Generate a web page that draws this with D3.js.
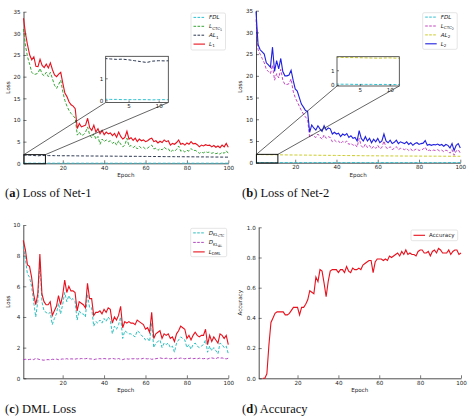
<!DOCTYPE html>
<html>
<head>
<meta charset="utf-8">
<script src="https://d3js.org/d3.v7.min.js"></script>
<style>
body { margin: 0; background: #fff; }
text { font-family: "DejaVu Sans", sans-serif; fill: #222; }
.cap { font-family: "Liberation Serif", serif; fill: #111; }
</style>
</head>
<body>
<svg id="fig" width="474" height="420"></svg>
<script>
// epochs 1..100
var epochs = d3.range(1, 101);
var xTicks = [20, 40, 60, 80, 100];

// (a) Net-1
var a_FDL = [0.05,0.04,0.04,0.03,0.03,0.03,0.03,0.03,0.02,0.03,
  0.03,0.02,0.03,0.02,0.03,0.02,0.02,0.03,0.02,0.02,
  0.02,0.03,0.02,0.02,0.02,0.02,0.03,0.02,0.02,0.02,
  0.02,0.02,0.02,0.03,0.02,0.02,0.02,0.02,0.02,0.02,
  0.02,0.02,0.02,0.02,0.02,0.02,0.02,0.02,0.02,0.02,
  0.02,0.02,0.02,0.02,0.02,0.02,0.02,0.02,0.02,0.02,
  0.02,0.02,0.02,0.02,0.02,0.02,0.02,0.02,0.02,0.02,
  0.02,0.02,0.02,0.02,0.02,0.02,0.02,0.02,0.02,0.02,
  0.02,0.02,0.02,0.02,0.02,0.02,0.02,0.02,0.02,0.02,
  0.02,0.02,0.02,0.02,0.02,0.02,0.02,0.02,0.02,0.02];
var a_CTC1 = [31.0,27.0,24.5,22.8,21.0,20.5,20.6,20.8,21.9,20.6,
  20.2,21.0,20.0,21.0,19.5,18.0,17.3,18.2,19.2,16.5,
  14.5,13.2,12.2,11.5,11.0,10.4,6.5,7.2,6.4,6.6,
  7.2,8.4,6.5,5.9,6.8,5.6,6.2,4.4,5.6,5.0,
  5.4,5.0,5.2,4.6,5.0,4.2,5.2,4.4,3.8,4.2,
  5.8,3.9,4.1,3.6,4.0,3.3,3.9,3.5,3.7,3.3,
  3.5,3.9,4.2,3.3,3.5,3.0,3.4,3.1,3.7,3.3,
  3.4,2.6,3.0,2.8,3.2,4.0,2.8,3.0,2.6,3.0,
  2.8,3.4,2.9,3.0,2.7,2.3,2.6,2.4,2.7,2.5,
  2.6,2.3,2.5,2.2,2.4,2.1,2.6,2.3,2.9,2.3];
var a_AL1 = [1.90,1.88,1.86,1.87,1.84,1.80,1.76,1.72,1.78,1.80,
  1.79,1.80,1.78,1.77,1.78,1.76,1.77,1.75,1.76,1.74,
  1.75,1.73,1.74,1.72,1.73,1.71,1.72,1.70,1.71,1.70,
  1.70,1.69,1.70,1.68,1.69,1.67,1.68,1.66,1.67,1.66,
  1.66,1.65,1.66,1.64,1.65,1.63,1.64,1.63,1.62,1.63,
  1.62,1.61,1.62,1.60,1.61,1.60,1.59,1.60,1.58,1.59,
  1.58,1.57,1.58,1.56,1.57,1.56,1.55,1.56,1.54,1.55,
  1.54,1.53,1.54,1.52,1.53,1.52,1.51,1.52,1.50,1.51,
  1.50,1.49,1.50,1.48,1.49,1.48,1.47,1.48,1.46,1.47,
  1.46,1.45,1.46,1.44,1.45,1.44,1.43,1.44,1.42,1.43];
var a_L1 = [33.5,29.8,27.2,25.0,23.9,24.6,22.4,22.3,24.0,22.6,
  22.1,22.9,22.0,23.2,21.6,20.4,20.0,20.6,21.0,18.5,
  16.2,15.4,14.2,13.5,13.2,12.6,8.0,9.2,8.4,8.6,
  8.8,10.4,8.2,7.6,8.8,7.2,8.0,6.8,7.6,6.6,
  7.2,6.8,7.0,6.4,6.9,6.0,7.2,6.2,5.6,6.0,
  7.4,5.6,5.9,5.3,5.8,5.0,5.6,5.2,5.4,5.0,
  5.2,5.6,5.8,5.0,5.2,4.7,5.1,4.8,5.4,5.0,
  5.2,4.2,4.6,4.4,4.8,5.4,4.4,4.6,4.2,4.7,
  4.4,5.0,4.5,4.6,4.3,3.8,4.2,4.0,4.3,4.1,
  4.2,3.8,4.1,3.7,4.0,3.6,4.2,3.8,4.6,3.7];

// (b) Net-2
var b_FDL = [0.06,0.05,0.05,0.04,0.04,0.04,0.04,0.03,0.04,0.03,
  0.03,0.03,0.03,0.03,0.03,0.03,0.03,0.03,0.03,0.03,
  0.03,0.03,0.03,0.03,0.03,0.03,0.03,0.03,0.03,0.03,
  0.03,0.03,0.03,0.03,0.03,0.03,0.03,0.03,0.03,0.03,
  0.03,0.03,0.03,0.03,0.03,0.03,0.03,0.03,0.03,0.03,
  0.03,0.03,0.03,0.03,0.03,0.03,0.03,0.03,0.03,0.03,
  0.03,0.03,0.03,0.03,0.03,0.03,0.03,0.03,0.03,0.03,
  0.03,0.03,0.03,0.03,0.03,0.03,0.03,0.03,0.03,0.03,
  0.03,0.03,0.03,0.03,0.03,0.03,0.03,0.03,0.03,0.03,
  0.03,0.03,0.03,0.03,0.03,0.03,0.03,0.03,0.03,0.03];
var b_CTC2 = [33.0,26.0,25.0,24.0,23.0,21.5,21.0,20.5,22.5,19.0,
  20.5,19.5,21.5,19.0,18.0,18.0,18.2,19.3,16.5,15.0,
  14.0,13.0,12.0,11.2,10.5,10.0,5.8,6.4,6.1,5.8,
  6.6,5.9,5.4,6.4,5.6,6.0,5.8,4.8,5.2,4.8,
  5.0,4.4,4.9,4.6,5.0,4.2,4.5,4.0,4.2,3.6,
  5.6,3.9,3.4,4.3,3.5,4.0,3.2,3.8,3.3,4.0,
  3.2,3.5,5.0,3.5,3.2,3.7,3.0,3.3,3.7,3.0,
  3.3,3.2,3.0,3.3,2.8,3.2,2.6,3.0,3.2,2.8,
  3.0,3.1,3.6,2.7,2.9,2.7,2.9,2.8,3.0,2.7,
  2.9,2.5,2.9,2.7,2.2,3.0,1.7,2.7,3.0,2.2];
var b_AL2 = [1.88,1.87,1.86,1.86,1.85,1.84,1.83,1.82,1.83,1.84,
  1.82,1.82,1.81,1.80,1.80,1.79,1.79,1.78,1.78,1.77,
  1.77,1.76,1.76,1.75,1.75,1.74,1.74,1.73,1.73,1.72,
  1.72,1.71,1.71,1.70,1.70,1.69,1.69,1.68,1.68,1.67,
  1.67,1.66,1.66,1.65,1.65,1.64,1.64,1.63,1.63,1.62,
  1.62,1.61,1.61,1.61,1.60,1.60,1.59,1.59,1.59,1.58,
  1.58,1.57,1.57,1.57,1.56,1.56,1.56,1.55,1.55,1.55,
  1.54,1.54,1.54,1.53,1.53,1.53,1.53,1.52,1.52,1.52,
  1.52,1.51,1.51,1.51,1.51,1.50,1.50,1.50,1.50,1.50,
  1.49,1.49,1.49,1.49,1.49,1.48,1.48,1.48,1.48,1.48];
var b_L2 = [34.8,27.2,26.0,25.5,25.0,23.0,22.5,22.0,26.6,21.0,
  23.5,21.6,24.0,21.0,20.0,20.0,20.2,21.3,19.0,17.0,
  16.5,15.0,13.5,12.8,12.0,11.8,7.0,8.7,8.0,7.5,
  8.5,7.8,7.2,8.5,7.5,8.0,7.8,6.6,7.0,6.6,
  6.8,6.0,6.6,6.3,6.7,5.8,6.2,5.6,5.8,5.0,
  7.4,5.6,5.0,6.0,5.0,5.6,4.6,5.4,4.8,5.6,
  4.6,5.0,6.6,5.0,4.6,5.2,4.4,4.7,5.2,4.4,
  4.8,4.6,4.4,4.8,4.2,4.6,4.0,4.4,4.6,4.2,
  4.4,4.5,5.1,4.0,4.2,4.0,4.2,4.1,4.3,4.0,
  4.2,3.8,4.2,4.0,3.4,4.4,2.8,4.0,4.4,3.4];

// (c) DML loss
var c_KLCTC = [8.6,7.8,6.8,6.6,6.0,5.0,4.0,5.0,7.6,5.0,
  4.4,4.3,4.2,4.3,3.5,3.9,4.2,4.9,4.2,4.8,
  5.6,5.0,5.4,5.1,5.2,5.0,3.8,4.4,4.2,4.2,
  4.0,5.5,4.6,4.6,3.4,3.7,3.6,3.8,3.6,3.9,
  3.7,4.0,3.8,2.9,3.4,3.2,3.5,4.0,2.6,3.1,
  3.0,2.9,2.9,2.8,2.7,3.1,3.0,2.8,2.7,2.5,
  2.6,2.4,3.6,2.0,2.3,2.4,2.5,2.0,2.3,2.2,
  2.3,2.0,2.1,1.7,2.3,2.5,2.7,2.6,2.5,2.0,
  2.2,1.9,2.2,2.3,2.1,2.0,2.1,2.2,2.5,1.7,
  2.1,1.8,2.0,1.8,1.6,2.3,2.2,2.0,2.1,1.6];
var c_KLAL = [1.22,1.24,1.21,1.23,1.25,1.22,1.30,1.26,1.22,1.20,
  1.18,1.21,1.22,1.20,1.24,1.23,1.25,1.22,1.24,1.26,
  1.25,1.28,1.24,1.27,1.26,1.25,1.28,1.26,1.29,1.27,
  1.28,1.30,1.27,1.26,1.22,1.25,1.27,1.28,1.26,1.29,
  1.27,1.26,1.28,1.30,1.27,1.25,1.29,1.24,1.22,1.26,
  1.27,1.25,1.28,1.27,1.29,1.26,1.28,1.27,1.30,1.28,
  1.27,1.29,1.24,1.26,1.28,1.30,1.33,1.30,1.28,1.31,
  1.29,1.27,1.30,1.28,1.31,1.29,1.32,1.30,1.27,1.31,
  1.29,1.32,1.28,1.30,1.27,1.31,1.29,1.28,1.30,1.26,
  1.31,1.33,1.30,1.28,1.35,1.31,1.33,1.29,1.27,1.31];
var c_DML = [9.0,8.4,7.4,7.3,6.6,5.5,4.8,5.5,8.1,5.5,
  5.0,4.8,4.8,5.0,4.1,4.4,4.7,5.4,4.8,5.4,
  6.4,5.6,6.0,5.7,5.7,5.6,4.4,5.0,4.9,4.8,
  4.6,6.2,5.2,5.2,4.1,4.3,4.3,4.4,4.2,4.5,
  4.3,4.6,4.5,3.6,4.0,3.8,4.1,4.7,3.3,3.7,
  3.6,3.7,3.6,3.6,3.5,3.8,3.7,3.6,3.5,3.2,
  3.3,3.0,4.3,2.6,2.9,3.0,3.1,2.6,2.9,2.8,
  2.9,2.6,2.7,2.4,2.9,3.1,3.4,3.3,3.2,2.6,
  2.8,2.5,2.8,3.0,2.8,2.7,2.8,2.8,3.2,2.2,
  2.8,2.4,2.7,2.5,2.3,2.9,2.8,2.6,2.8,2.2];

// (d) accuracy (no value for the first two epochs)
var d_ACC = [null,null,0.0,0.0,0.03,0.22,0.37,0.40,0.43,0.44,
  0.44,0.44,0.44,0.42,0.42,0.43,0.45,0.47,0.47,0.47,
  0.42,0.47,0.47,0.49,0.52,0.58,0.57,0.56,0.67,0.64,
  0.72,0.71,0.63,0.54,0.64,0.71,0.72,0.72,0.72,0.70,
  0.72,0.72,0.70,0.74,0.71,0.70,0.73,0.72,0.72,0.73,
  0.72,0.75,0.76,0.77,0.78,0.78,0.70,0.77,0.79,0.79,
  0.79,0.78,0.79,0.78,0.81,0.80,0.81,0.82,0.83,0.81,
  0.84,0.82,0.85,0.82,0.83,0.82,0.82,0.81,0.84,0.85,
  0.85,0.83,0.83,0.84,0.81,0.84,0.85,0.83,0.86,0.85,
  0.83,0.83,0.83,0.85,0.82,0.84,0.85,0.85,0.82,0.83];

var svg = d3.select("#fig");
svg.append("rect").attr("width", 474).attr("height", 420).attr("fill", "#fff");

var SUBSIZE = [5.6, 4.1, 3.3];
var SUBSHIFT = [0, 1.3, 2.3];

function mathLabel(sel, parts) {
  var level = 0;
  parts.forEach(function (p) {
    sel.append("tspan")
      .text(p[0])
      .attr("font-size", SUBSIZE[p[1]])
      .attr("font-style", p[2] ? "italic" : "normal")
      .attr("dy", SUBSHIFT[p[1]] - SUBSHIFT[level]);
    level = p[1];
  });
}

var clipId = 0;

function styleAxis(a, keepDomain) {
  a.selectAll("text").attr("font-size", 5.6).attr("font-family", "DejaVu Sans").style("fill", "#222");
  a.selectAll("line").attr("stroke", "#222").attr("stroke-width", 0.6);
  if (keepDomain) a.select(".domain").attr("stroke", "#222").attr("stroke-width", 0.8);
  else a.select(".domain").remove();
}

function drawPanel(p) {
  var g = svg.append("g");
  var x = d3.scaleLinear().domain([1, 100]).range([p.left, p.right]);
  var y = d3.scaleLinear().domain([0, p.ymax]).range([p.bottom, p.top]);

  var line = d3.line()
    .defined(function (d) { return d != null; })
    .x(function (d, i) { return x(epochs[i]); })
    .y(function (d) { return y(d); });

  var xa = g.append("g").attr("transform", "translate(0," + p.bottom + ")")
    .call(d3.axisBottom(x).tickValues(xTicks).tickSizeInner(-3).tickSizeOuter(0).tickPadding(2.5));
  var ya = g.append("g").attr("transform", "translate(" + p.left + ",0)")
    .call(d3.axisLeft(y).tickValues(p.yticks).tickFormat(p.yfmt).tickSizeInner(-3).tickSizeOuter(0).tickPadding(3));
  styleAxis(xa, true);
  styleAxis(ya, true);

  g.append("text").attr("x", (p.left + p.right) / 2).attr("y", p.bottom + 14)
    .attr("text-anchor", "middle").attr("font-size", 5.6).text("Epoch");
  g.append("text").attr("transform", "translate(" + p.ylx + "," + (p.top + p.bottom) / 2 + ") rotate(-90)")
    .attr("text-anchor", "middle").attr("font-size", 5.6).text(p.ylabel);

  p.series.forEach(function (s) {
    g.append("path").datum(s.values)
      .attr("d", line)
      .attr("fill", "none")
      .attr("stroke", s.color)
      .attr("stroke-width", s.dash ? 0.95 : 1.1)
      .attr("stroke-dasharray", s.dash ? "3,1.8" : null);
  });

  // zoom inset
  if (p.inset) {
    var q = p.inset;
    var ix = d3.scaleLinear().domain(q.xdom).range([q.left, q.right]);
    var iy = d3.scaleLinear().domain(q.ydom).range([q.bottom, q.top]);
    var ih = q.bottom - q.top;

    // marked region on the main axes and connectors
    var rx0 = x(q.xdom[0]), rx1 = x(q.xdom[1]), ry0 = y(q.ydom[1]), ry1 = y(q.ydom[0]);
    g.append("rect").attr("x", rx0).attr("y", ry0).attr("width", rx1 - rx0).attr("height", ry1 - ry0)
      .attr("fill", "none").attr("stroke", "#111").attr("stroke-width", 1);
    g.append("line").attr("x1", rx0).attr("y1", ry0).attr("x2", q.left).attr("y2", q.bottom)
      .attr("stroke", "#222").attr("stroke-width", 0.7);
    g.append("line").attr("x1", rx1).attr("y1", ry0).attr("x2", q.right).attr("y2", q.bottom)
      .attr("stroke", "#222").attr("stroke-width", 0.7);

    var ig = g.append("g");
    var cid = "clip" + (clipId++);
    ig.append("clipPath").attr("id", cid).append("rect")
      .attr("x", q.left).attr("y", q.top).attr("width", q.right - q.left).attr("height", ih);
    ig.append("rect").attr("x", q.left).attr("y", q.top).attr("width", q.right - q.left).attr("height", ih)
      .attr("fill", "#fff");

    var iline = d3.line()
      .defined(function (d) { return d != null; })
      .x(function (d, i) { return ix(epochs[i]); })
      .y(function (d) { return iy(d); });
    var lg = ig.append("g").attr("clip-path", "url(#" + cid + ")");
    p.series.forEach(function (s) {
      lg.append("path").datum(s.values)
        .attr("d", iline)
        .attr("fill", "none")
        .attr("stroke", s.color)
        .attr("stroke-width", s.dash ? 0.95 : 1.1)
        .attr("stroke-dasharray", s.dash ? "3,1.8" : null);
    });

    var ixa = ig.append("g").attr("transform", "translate(0," + q.bottom + ")")
      .call(d3.axisBottom(ix).tickValues([5, 10]).tickFormat(d3.format("d")).tickSizeInner(-2).tickSizeOuter(0).tickPadding(2));
    var iya = ig.append("g").attr("transform", "translate(" + q.left + ",0)")
      .call(d3.axisLeft(iy).tickValues([0, 1]).tickFormat(d3.format("d")).tickSizeInner(-2).tickSizeOuter(0).tickPadding(2.5));
    styleAxis(ixa, false);
    styleAxis(iya, false);
    ig.append("rect").attr("x", q.left).attr("y", q.top).attr("width", q.right - q.left).attr("height", ih)
      .attr("fill", "none").attr("stroke", "#333").attr("stroke-width", 0.8);
  }

  // legend
  var L = p.legend;
  var lgd = g.append("g");
  lgd.append("rect").attr("x", L.x).attr("y", L.y).attr("width", L.w).attr("height", L.h)
    .attr("rx", 1.5).attr("fill", "#fff").attr("fill-opacity", 0.85)
    .attr("stroke", "#d4d4d4").attr("stroke-width", 0.6);
  p.series.forEach(function (s, i) {
    var yy = L.y + L.pad + i * L.step;
    lgd.append("line").attr("x1", L.x + 2.5).attr("x2", L.x + 14).attr("y1", yy).attr("y2", yy)
      .attr("stroke", s.color).attr("stroke-width", s.dash ? 0.95 : 1.1)
      .attr("stroke-dasharray", s.dash ? "2.6,1.4" : null);
    var t = lgd.append("text").attr("x", L.x + 18).attr("y", yy + 2);
    mathLabel(t, s.label);
  });

  // caption
  var c = svg.append("text").attr("class", "cap").attr("x", p.capx).attr("y", p.capy).attr("font-size", 12.5);
  c.append("tspan").text("(");
  c.append("tspan").attr("font-weight", "bold").text(p.capLetter);
  c.append("tspan").text(") " + p.capText);
}

var cyan = "#22bfd0", green = "#2aa02a", navy = "#1e2a46", red = "#e8101c";
var magenta = "#c03cc0", yellow = "#c8c81a", blue = "#2020e0";
var teal = "#22bcbc", purple = "#b03cc0";

drawPanel({
  left: 23.5, right: 228.3, top: 11.7, bottom: 163.3, ylx: 10,
  ymax: 35, yticks: [0, 5, 10, 15, 20, 25, 30, 35], yfmt: d3.format("d"), ylabel: "Loss",
  series: [
    { values: a_FDL, color: cyan, dash: true, label: [["FDL", 0, true]] },
    { values: a_CTC1, color: green, dash: true, label: [["L", 0, true], ["CTC", 1, false], ["1", 2, false]] },
    { values: a_AL1, color: navy, dash: true, label: [["AL", 0, true], ["1", 1, false]] },
    { values: a_L1, color: red, dash: false, label: [["L", 0, true], ["1", 1, false]] }
  ],
  inset: { left: 105.7, right: 168.3, top: 56.3, bottom: 102.5, xdom: [1.2, 11.6], ydom: [-0.1, 2.0] },
  legend: { x: 191, y: 13, w: 34.5, h: 37, pad: 4.4, step: 8.9 },
  capx: 5, capy: 197, capLetter: "a", capText: "Loss of Net-1"
});

drawPanel({
  left: 256, right: 460.3, top: 10.7, bottom: 162.7, ylx: 242,
  ymax: 35, yticks: [0, 5, 10, 15, 20, 25, 30, 35], yfmt: d3.format("d"), ylabel: "Loss",
  series: [
    { values: b_FDL, color: cyan, dash: true, label: [["FDL", 0, true]] },
    { values: b_CTC2, color: magenta, dash: true, label: [["L", 0, true], ["CTC", 1, false], ["2", 2, false]] },
    { values: b_AL2, color: yellow, dash: true, label: [["AL", 0, true], ["2", 1, false]] },
    { values: b_L2, color: blue, dash: false, label: [["L", 0, true], ["2", 1, false]] }
  ],
  inset: { left: 337, right: 399.3, top: 56.7, bottom: 86, xdom: [1.2, 11.6], ydom: [-0.07, 1.92] },
  legend: { x: 422.7, y: 12.7, w: 34.5, h: 36.6, pad: 4.4, step: 8.9 },
  capx: 242, capy: 197, capLetter: "b", capText: "Loss of Net-2"
});

drawPanel({
  left: 23.3, right: 228.3, top: 225, bottom: 378.3, ylx: 10,
  ymax: 10, yticks: [0, 2, 4, 6, 8, 10], yfmt: d3.format("d"), ylabel: "Loss",
  series: [
    { values: c_KLCTC, color: teal, dash: true, label: [["D", 0, true], ["KL", 1, false], ["CTC", 2, false]] },
    { values: c_KLAL, color: purple, dash: true, label: [["D", 0, true], ["KL", 1, false], ["AL", 2, false]] },
    { values: c_DML, color: red, dash: false, label: [["L", 0, true], ["DML", 1, false]] }
  ],
  legend: { x: 190.7, y: 228.3, w: 36, h: 28.4, pad: 4.6, step: 9.5 },
  capx: 5, capy: 413, capLetter: "c", capText: "DML Loss"
});

drawPanel({
  left: 258.7, right: 461, top: 227.3, bottom: 378.3, ylx: 242,
  ymax: 1, yticks: [0, 0.2, 0.4, 0.6, 0.8, 1.0], yfmt: d3.format(".1f"), ylabel: "Accuracy",
  series: [
    { values: d_ACC, color: red, dash: false, label: [["Accuracy", 0, false]] }
  ],
  legend: { x: 411, y: 230, w: 46.7, h: 10.7, pad: 5.3, step: 9 },
  capx: 242, capy: 413, capLetter: "d", capText: "Accuracy"
});
</script>
</body>
</html>
